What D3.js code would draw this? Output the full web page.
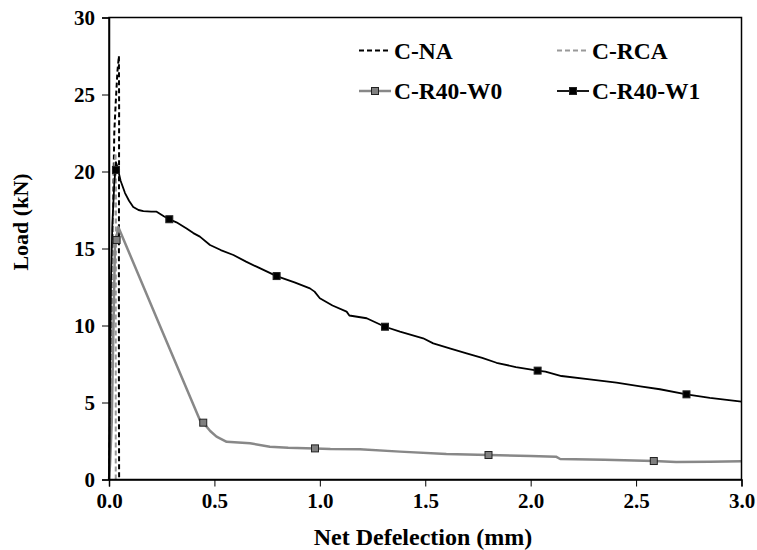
<html>
    <head>
        <style>
            body { margin: 0; background: #fff; }
            text { font-family: "Liberation Serif", "Times New Roman", serif; font-weight: bold; }
        </style>
    </head>
    <body>
        <svg id="cont" width="757" height="550"></svg>

        <script src="https://cdn.jsdelivr.net/npm/d3@7"></script>
        <script>
            // values (deflection mm, load kN)
            var naDefl = [0, 0.008, 0.015, 0.02, 0.025, 0.032, 0.04, 0.047, 0.048, 0.047, 0.047, 0.048];
            var naLoad = [0, 6, 13, 18, 22.5, 24.5, 26.5, 27.5, 24, 15, 5, 0];

            var rcaDefl = [0, 0.008, 0.014, 0.02, 0.026, 0.031, 0.033, 0.032, 0.032];
            var rcaLoad = [0, 6, 12, 17, 20.5, 21.2, 19, 10, 0];

            var w0Defl = [0, 0.005, 0.013, 0.02, 0.028, 0.036, 0.044, 0.25, 0.431, 0.447, 0.48, 0.51, 0.558, 0.669, 0.763, 0.85, 0.977, 1.05, 1.19, 1.38, 1.6, 1.8, 2.0, 2.12, 2.14, 2.35, 2.584, 2.69, 2.85, 3.0];
            var w0Load = [0, 1, 3.7, 9.06, 15.0, 15.8, 16.4, 9.71, 3.86, 3.69, 3.15, 2.78, 2.45, 2.35, 2.13, 2.06, 2.02, 1.98, 1.96, 1.81, 1.65, 1.59, 1.52, 1.48, 1.33, 1.28, 1.2, 1.14, 1.15, 1.18];
            var w0MarkDefl = [0.036, 0.447, 0.977, 1.8, 2.584];
            var w0MarkLoad = [15.55, 3.69, 2.02, 1.59, 1.2];

            var w1Defl = [0, 0.003, 0.006, 0.0095, 0.016, 0.025, 0.033, 0.04, 0.055, 0.076, 0.095, 0.115, 0.14, 0.163, 0.2, 0.226, 0.26, 0.286, 0.32, 0.368, 0.4, 0.431, 0.479, 0.53, 0.59, 0.65, 0.7, 0.795, 0.88, 0.953, 0.975, 1.0, 1.06, 1.127, 1.14, 1.222, 1.309, 1.38, 1.49, 1.538, 1.62, 1.696, 1.77, 1.838, 1.93, 2.033, 2.07, 2.146, 2.28, 2.407, 2.52, 2.613, 2.739, 2.85, 3.0];
            var w1Load = [0, 3, 8, 12.9, 16.6, 19.2, 20.6, 20.3, 19.4, 18.6, 18.1, 17.7, 17.5, 17.43, 17.4, 17.39, 17.1, 16.9, 16.7, 16.3, 16.0, 15.77, 15.23, 14.9, 14.58, 14.15, 13.82, 13.21, 12.8, 12.41, 12.2, 11.77, 11.3, 10.9, 10.65, 10.47, 9.92, 9.6, 9.17, 8.84, 8.5, 8.19, 7.9, 7.58, 7.3, 7.07, 7.0, 6.72, 6.5, 6.29, 6.05, 5.86, 5.53, 5.3, 5.05];
            var w1MarkDefl = [0.033, 0.286, 0.795, 1.309, 2.033, 2.739];
            var w1MarkLoad = [20.1, 16.9, 13.21, 9.92, 7.07, 5.53];

            var xTicks = [0, 0.5, 1.0, 1.5, 2.0, 2.5, 3.0];
            var yTicks = [0, 5, 10, 15, 20, 25, 30];

            body = d3.select("#cont");

            var plotLeft = 109, plotRight = 741.5, plotTop = 17.5, plotBottom = 479.5;

            let x = d3.scaleLinear().domain([0, 3]).range([plotLeft, plotRight]);
            let y = d3.scaleLinear().domain([0, 30]).range([plotBottom, plotTop]);

            function zip(a, b) { return a.map((v, i) => [v, b[i]]); }

            let line = d3.line()
                    .x(d => x(d[0]))
                    .y(d => y(d[1]));

            var series = [
                {name: "C-NA", pts: zip(naDefl, naLoad), color: "#000", width: 2, dash: "5,3"},
                {name: "C-RCA", pts: zip(rcaDefl, rcaLoad), color: "#999", width: 2, dash: "5,3"},
                {name: "C-R40-W0", pts: zip(w0Defl, w0Load), color: "#888", width: 2.5, dash: null,
                    marks: zip(w0MarkDefl, w0MarkLoad), mfill: "#808080"},
                {name: "C-R40-W1", pts: zip(w1Defl, w1Load), color: "#000", width: 1.8, dash: null,
                    marks: zip(w1MarkDefl, w1MarkLoad), mfill: "#000"}
            ];

            // lines
            series.forEach(s => {
                body.append("path")
                    .attr("d", line(s.pts))
                    .attr("fill", "none")
                    .attr("stroke", s.color)
                    .attr("stroke-width", s.width)
                    .attr("stroke-linejoin", "round")
                    .attr("stroke-dasharray", s.dash);
            });
            series.forEach(s => {
                if (!s.marks) return;
                body.selectAll(null)
                    .data(s.marks)
                    .enter()
                    .append("rect")
                    .attr("x", d => x(d[0]) - 3.5)
                    .attr("y", d => y(d[1]) - 3.5)
                    .attr("width", 7)
                    .attr("height", 7)
                    .attr("fill", s.mfill)
                    .attr("stroke", "#222")
                    .attr("stroke-width", 1);
            });

            // frame
            body.append("rect")
                .attr("x", plotLeft).attr("y", plotTop)
                .attr("width", plotRight - plotLeft).attr("height", plotBottom - plotTop)
                .attr("fill", "none")
                .attr("stroke", "#000")
                .attr("stroke-width", 1.5);

            let xAxis = d3.axisBottom(x).tickValues(xTicks).tickSize(7).tickFormat(d3.format(".1f"));
            let yAxis = d3.axisLeft(y).tickValues(yTicks).tickSize(7).tickFormat(d3.format("d"));

            let gx = body.append("g").attr("transform", `translate(0,${plotBottom})`).call(xAxis);
            let gy = body.append("g").attr("transform", `translate(${plotLeft},0)`).call(yAxis);
            [gx, gy].forEach(g => {
                g.select(".domain").attr("stroke", "#000").attr("stroke-width", 1.5);
                g.selectAll(".tick line").attr("stroke", "#000").attr("stroke-width", 1);
                g.selectAll("text")
                    .attr("fill", "#000")
                    .style("font-family", "'Liberation Serif', serif")
                    .style("font-weight", "bold")
                    .style("font-size", "21px");
            });
            gx.selectAll("text").attr("y", 14);
            gy.selectAll("text").attr("x", -14);

            body.append("text")
                .attr("x", 423).attr("y", 545)
                .attr("text-anchor", "middle")
                .style("font-size", "24px")
                .text("Net Defelection (mm)");

            body.append("text")
                .attr("transform", "translate(28,222) rotate(-90)")
                .attr("text-anchor", "middle")
                .style("font-size", "22px")
                .text("Load (kN)");

            // legend
            var legPos = [[359, 50.5], [557, 50.5], [359, 91], [557, 91]];
            series.forEach((s, i) => {
                var p = legPos[i];
                let g = body.append("g").attr("transform", `translate(${p[0]},${p[1]})`);
                g.append("line")
                    .attr("x1", 0).attr("x2", 32)
                    .attr("stroke", s.color)
                    .attr("stroke-width", s.width)
                    .attr("stroke-dasharray", s.dash);
                if (s.marks) {
                    g.append("rect")
                        .attr("x", 12.5).attr("y", -3.5)
                        .attr("width", 7).attr("height", 7)
                        .attr("fill", s.mfill)
                        .attr("stroke", "#222");
                }
                g.append("text")
                    .attr("x", 35).attr("y", 8)
                    .style("font-size", "23.5px")
                    .text(s.name);
            });
        </script>
    </body>

</html>
